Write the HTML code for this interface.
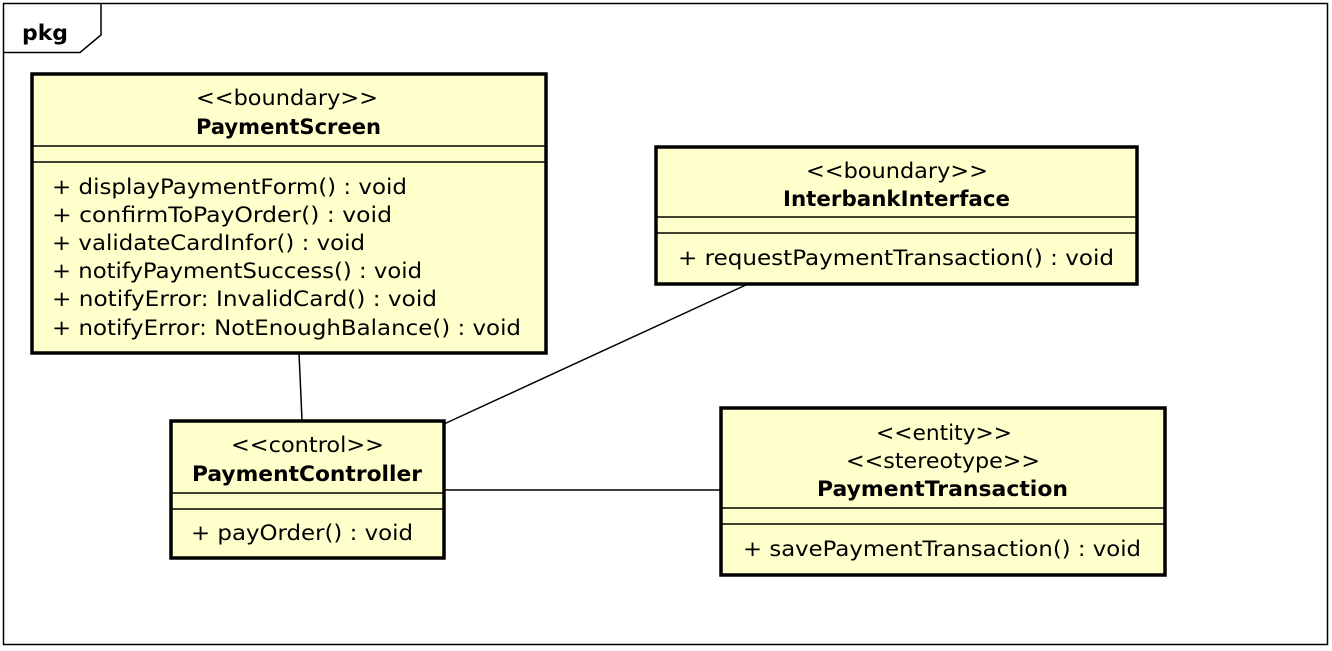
<!DOCTYPE html>
<html><head><meta charset="utf-8"><style>
html,body{margin:0;padding:0;background:#fff}
svg text{font-family:"DejaVu Sans","Liberation Sans",sans-serif;font-size:21px;fill:#000}
.b{font-weight:bold}
</style></head><body>
<svg width="1332" height="646" viewBox="0 0 1332 646" xmlns="http://www.w3.org/2000/svg">
<rect x="3.5" y="3.5" width="1324" height="641" fill="#fff" stroke="#000" stroke-width="1.5"/>
<path d="M3.5 52.5 H80 L101 35 V3.5" fill="none" stroke="#000" stroke-width="1.5"/>
<text x="22" y="40" class="b" textLength="46" lengthAdjust="spacingAndGlyphs">pkg</text>

<g stroke="#000" stroke-width="1.5">
<line x1="299" y1="353" x2="302" y2="420"/>
<line x1="748" y1="284" x2="444" y2="424"/>
<line x1="444" y1="490" x2="720" y2="490"/>
</g>

<!-- PaymentScreen -->
<rect x="32" y="74" width="514" height="279" fill="#ffffcc" stroke="#000" stroke-width="3.5"/>
<line x1="33" y1="146" x2="545" y2="146" stroke="#000" stroke-width="1.5"/>
<line x1="33" y1="162" x2="545" y2="162" stroke="#000" stroke-width="1.5"/>
<text x="196" y="105" textLength="182" lengthAdjust="spacingAndGlyphs">&lt;&lt;boundary&gt;&gt;</text>
<text x="196" y="134" class="b" textLength="185" lengthAdjust="spacingAndGlyphs">PaymentScreen</text>
<text x="52" y="194" textLength="355" lengthAdjust="spacingAndGlyphs">+ displayPaymentForm() : void</text>
<text x="52" y="222" textLength="340" lengthAdjust="spacingAndGlyphs">+ confirmToPayOrder() : void</text>
<text x="52" y="250" textLength="313" lengthAdjust="spacingAndGlyphs">+ validateCardInfor() : void</text>
<text x="52" y="278" textLength="370" lengthAdjust="spacingAndGlyphs">+ notifyPaymentSuccess() : void</text>
<text x="52" y="306" textLength="385" lengthAdjust="spacingAndGlyphs">+ notifyError: InvalidCard() : void</text>
<text x="52" y="335" textLength="469" lengthAdjust="spacingAndGlyphs">+ notifyError: NotEnoughBalance() : void</text>

<!-- InterbankInterface -->
<rect x="656" y="147" width="481" height="137" fill="#ffffcc" stroke="#000" stroke-width="3.5"/>
<line x1="657" y1="217" x2="1136" y2="217" stroke="#000" stroke-width="1.5"/>
<line x1="657" y1="233" x2="1136" y2="233" stroke="#000" stroke-width="1.5"/>
<text x="806" y="178" textLength="182" lengthAdjust="spacingAndGlyphs">&lt;&lt;boundary&gt;&gt;</text>
<text x="783" y="206" class="b" textLength="227" lengthAdjust="spacingAndGlyphs">InterbankInterface</text>
<text x="678" y="265" textLength="436" lengthAdjust="spacingAndGlyphs">+ requestPaymentTransaction() : void</text>

<!-- PaymentController -->
<rect x="171" y="421" width="273" height="137" fill="#ffffcc" stroke="#000" stroke-width="3.5"/>
<line x1="172" y1="493" x2="443" y2="493" stroke="#000" stroke-width="1.5"/>
<line x1="172" y1="509" x2="443" y2="509" stroke="#000" stroke-width="1.5"/>
<text x="231" y="452" textLength="153" lengthAdjust="spacingAndGlyphs">&lt;&lt;control&gt;&gt;</text>
<text x="192" y="481" class="b" textLength="230" lengthAdjust="spacingAndGlyphs">PaymentController</text>
<text x="191" y="540" textLength="222" lengthAdjust="spacingAndGlyphs">+ payOrder() : void</text>

<!-- PaymentTransaction -->
<rect x="721" y="408" width="444" height="167" fill="#ffffcc" stroke="#000" stroke-width="3.5"/>
<line x1="722" y1="508" x2="1164" y2="508" stroke="#000" stroke-width="1.5"/>
<line x1="722" y1="524" x2="1164" y2="524" stroke="#000" stroke-width="1.5"/>
<text x="876" y="440" textLength="136" lengthAdjust="spacingAndGlyphs">&lt;&lt;entity&gt;&gt;</text>
<text x="846" y="468" textLength="194" lengthAdjust="spacingAndGlyphs">&lt;&lt;stereotype&gt;&gt;</text>
<text x="817" y="496" class="b" textLength="251" lengthAdjust="spacingAndGlyphs">PaymentTransaction</text>
<text x="743" y="556" textLength="398" lengthAdjust="spacingAndGlyphs">+ savePaymentTransaction() : void</text>
</svg>
</body></html>
